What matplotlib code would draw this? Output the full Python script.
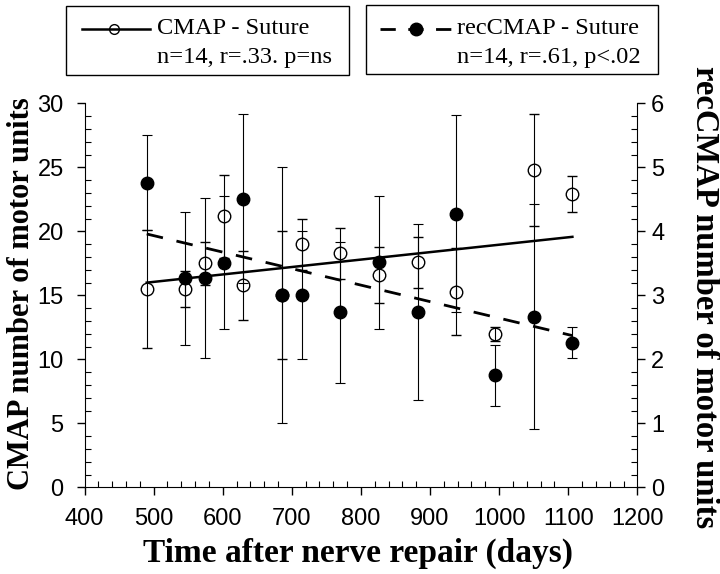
import numpy as np
import matplotlib.pyplot as plt
from matplotlib.lines import Line2D
from matplotlib.patches import Rectangle
from matplotlib.ticker import MultipleLocator

plt.rcParams['font.family'] = 'Liberation Sans'

# time after repair (days), shared by both series
days = np.array([490, 546, 574, 602, 630, 686, 714, 770, 826, 882, 938, 994, 1050, 1106])

# CMAP - Suture (left axis), open circles
cmap_mu = np.array([15.5, 15.5, 17.5, 21.2, 15.8, 15.0, 19.0, 18.3, 16.6, 17.6, 15.3, 12.0, 24.8, 22.9])
cmap_sd = np.array([4.6, 1.4, 1.65, 3.25, 2.7, 5.0, 2.0, 2.0, 2.2, 2.0, 3.4, 0.55, 4.4, 1.4])

# recCMAP - Suture (right axis), filled circles
rec_mu = np.array([4.76, 3.27, 3.27, 3.51, 4.51, 3.0, 3.0, 2.74, 3.52, 2.74, 4.28, 1.75, 2.67, 2.26])
rec_sd = np.array([0.74, 1.04, 1.25, 1.04, 1.32, 2.0, 1.0, 1.1, 1.04, 1.37, 1.54, 0.48, 1.76, 0.24])

label1 = ["CMAP - Suture", "n=14, r=.33. p=ns"]
label2 = ["recCMAP - Suture", "n=14, r=.61, p<.02"]

serif = 'Liberation Serif'
W, H = 720, 574


def fx(px):
    return px / W


def fy(py):
    return 1 - py / H


fig = plt.figure(figsize=(7.2, 5.74), dpi=100)
ax = fig.add_axes([0.1174, 0.1507, 0.7678, 0.669])
ax2 = ax.twinx()

# regression lines
xf = np.array([days.min(), days.max()])
p1 = np.polyfit(days, cmap_mu, 1)
p2 = np.polyfit(days, rec_mu, 1)
ax.plot(xf, np.polyval(p1, xf), color='black', lw=1.8, zorder=2)
ax2.plot(xf, np.polyval(p2, xf), color='black', lw=2.0, linestyle=(0, (6, 5)), zorder=2)

ax.errorbar(days, cmap_mu, yerr=cmap_sd, fmt='o', mfc='none', mec='black', mew=1.0,
            ms=9, ecolor='black', elinewidth=0.8, capsize=3.5, capthick=0.8, zorder=3)
ax2.errorbar(days, rec_mu, yerr=rec_sd, fmt='o', mfc='black', mec='black',
             ms=9, ecolor='black', elinewidth=0.8, capsize=3.5, capthick=0.8, zorder=3)

ax.set_xlim(400, 1200)
ax.set_ylim(0, 30)
ax2.set_ylim(0, 6)
ax.xaxis.set_major_locator(MultipleLocator(100))
ax.xaxis.set_minor_locator(MultipleLocator(20))
ax.yaxis.set_major_locator(MultipleLocator(5))
ax.yaxis.set_minor_locator(MultipleLocator(1))
ax2.yaxis.set_major_locator(MultipleLocator(1))
ax2.yaxis.set_minor_locator(MultipleLocator(0.2))

for a in (ax, ax2):
    a.spines['top'].set_visible(False)
    a.tick_params(which='major', direction='out', length=6, width=1, labelsize=17)
    a.tick_params(which='minor', direction='in', length=4, width=0.8)
ax.tick_params(axis='x', which='major', pad=9)
ax.tick_params(axis='y', which='major', pad=9)
ax2.tick_params(axis='y', which='major', pad=4)
ax.spines['right'].set_visible(False)
ax2.spines['left'].set_visible(False)
ax2.spines['bottom'].set_visible(False)

fig.text(fx(22), fy(294), "CMAP number of motor units", rotation=90,
         ha='center', va='center', fontsize=22, fontweight='bold', family=serif)
fig.text(fx(704), fy(297), "recCMAP number of motor units", rotation=-90,
         ha='center', va='center', fontsize=23.5, fontweight='bold', family=serif)
fig.text(fx(358), fy(553), "Time after nerve repair (days)",
         ha='center', va='center', fontsize=24, fontweight='bold', family=serif)

# legend boxes, drawn by hand so the two text lines sit as in the original
for x0, y0, x1, y1 in [(66, 6, 349, 75), (366, 5, 658, 74)]:
    fig.add_artist(Rectangle((fx(x0), fy(y1)), fx(x1) - fx(x0), fy(y0) - fy(y1),
                             transform=fig.transFigure, fill=False, ec='black', lw=1.0))

fig.add_artist(Line2D([fx(82), fx(150)], [fy(29), fy(29)], transform=fig.transFigure,
                      color='black', lw=1.8))
fig.add_artist(Line2D([fx(114)], [fy(29)], transform=fig.transFigure, marker='o',
                      mfc='none', mec='black', ms=7, mew=1.0))
fig.add_artist(Line2D([fx(380), fx(451)], [fy(29), fy(29)], transform=fig.transFigure,
                      color='black', lw=2.0, linestyle=(0, (5.5, 4.5))))
fig.add_artist(Line2D([fx(416)], [fy(29)], transform=fig.transFigure, marker='o',
                      mfc='black', mec='black', ms=9))

for xt, lines in [(157, label1), (457, label2)]:
    fig.text(fx(xt), fy(29), lines[0], ha='left', va='center', fontsize=17.6, family=serif)
    fig.text(fx(xt), fy(57), lines[1], ha='left', va='center', fontsize=17.6, family=serif)

fig.savefig('out.png', dpi=100)
